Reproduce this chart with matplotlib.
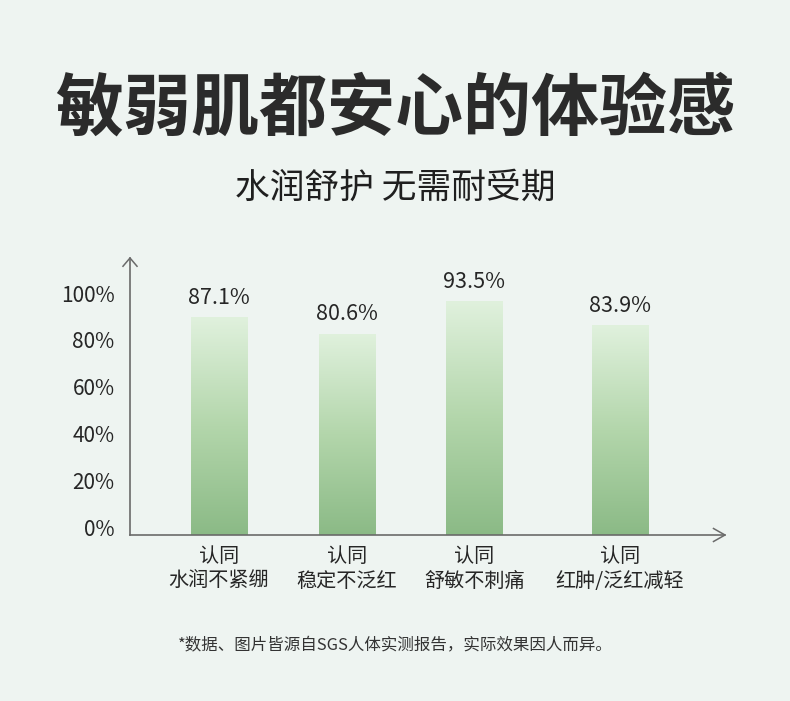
import numpy as np
import matplotlib
matplotlib.use('Agg')
from matplotlib import pyplot as plt
from matplotlib.colors import LinearSegmentedColormap

plt.rcParams['font.family'] = ['Noto Sans CJK SC', 'DejaVu Sans']

title = '敏弱肌都安心的体验感'
subtitle = '水润舒护 无需耐受期'
note = '*数据、图片皆源自SGS人体实测报告，实际效果因人而异。'
cat_top = ['认同', '认同', '认同', '认同']
cat_bottom = ['水润不紧绷', '稳定不泛红', '舒敏不刺痛', '红肿/泛红减轻']
values = [87.1, 80.6, 93.5, 83.9]
tick_labels = ['0%', '20%', '40%', '60%', '80%', '100%']

bg = '#eef4f1'
txt = '#262626'
axc = '#6a6a6a'

# bar slots (last one sits a bit further right in the original)
xpos = [0, 1, 2, 3.14]
barw = 0.44

fig = plt.figure(figsize=(7.9, 7.01), dpi=100, facecolor=bg)
ax = fig.add_axes([130/790, 1-535/701, 595/790, 277/701])
ax.set_facecolor(bg)

cmap = LinearSegmentedColormap.from_list('g', ['#8bba86', '#b3d6ab', '#e0f1dd'])
grad = np.linspace(0, 1, 256).reshape(-1, 1)
bars = ax.bar(xpos, values, width=barw, color='none', edgecolor='none', zorder=2)
for b in bars:
    x0, y0 = b.get_x(), b.get_y()
    im = ax.imshow(grad, cmap=cmap, aspect='auto', origin='lower',
                   extent=(x0, x0+b.get_width(), y0, y0+b.get_height()), zorder=2)
    im.set_clip_path(b)
ax.set_xlim(-0.697, 3.962)
ax.set_ylim(0, 110.8)

for x, v in zip(xpos, values):
    ax.annotate(f'{v}%', (x, v), xytext=(0, 6), textcoords='offset points',
                ha='center', va='bottom', fontsize=15.5, color=txt, fontweight='medium')

for x, a, b in zip(xpos, cat_top, cat_bottom):
    ax.annotate(a + '\n' + b, (x, 0), xytext=(0, -8), textcoords='offset points',
                ha='center', va='top', fontsize=14.5, color=txt, linespacing=1.25)

# tick labels sit on a slightly tighter grid than the bars in the original
ax.set_yticks([3.2 + 18.72*i for i in range(6)])
ax.set_yticklabels(tick_labels, fontsize=15, color=txt, fontweight='medium')
ax.tick_params(axis='y', length=0, pad=11)
ax.set_xticks([])

for s in ['top', 'right']:
    ax.spines[s].set_visible(False)
for s in ['left', 'bottom']:
    ax.spines[s].set_color(axc)
    ax.spines[s].set_linewidth(1.2)

# open arrow heads
ax.plot([-0.697-0.055, -0.697, -0.697+0.055], [107.5, 110.8, 107.5], color=axc,
        lw=1.1, clip_on=False)
ax.plot([3.962-0.09, 3.962, 3.962-0.09], [2.6, 0, -2.6], color=axc,
        lw=1.1, clip_on=False)

fig.text(0.5, 1-110/701, title, ha='center', va='center', fontsize=49,
         fontweight='semibold', color='#2b2b2b')
fig.text(0.5, 1-188/701, subtitle, ha='center', va='center', fontsize=25,
         color='#1f1f1f')
fig.text(0.5, 1-645/701, note, ha='center', va='center', fontsize=11.9,
         color='#333333')

fig.savefig('out.png', dpi=100, facecolor=bg)
